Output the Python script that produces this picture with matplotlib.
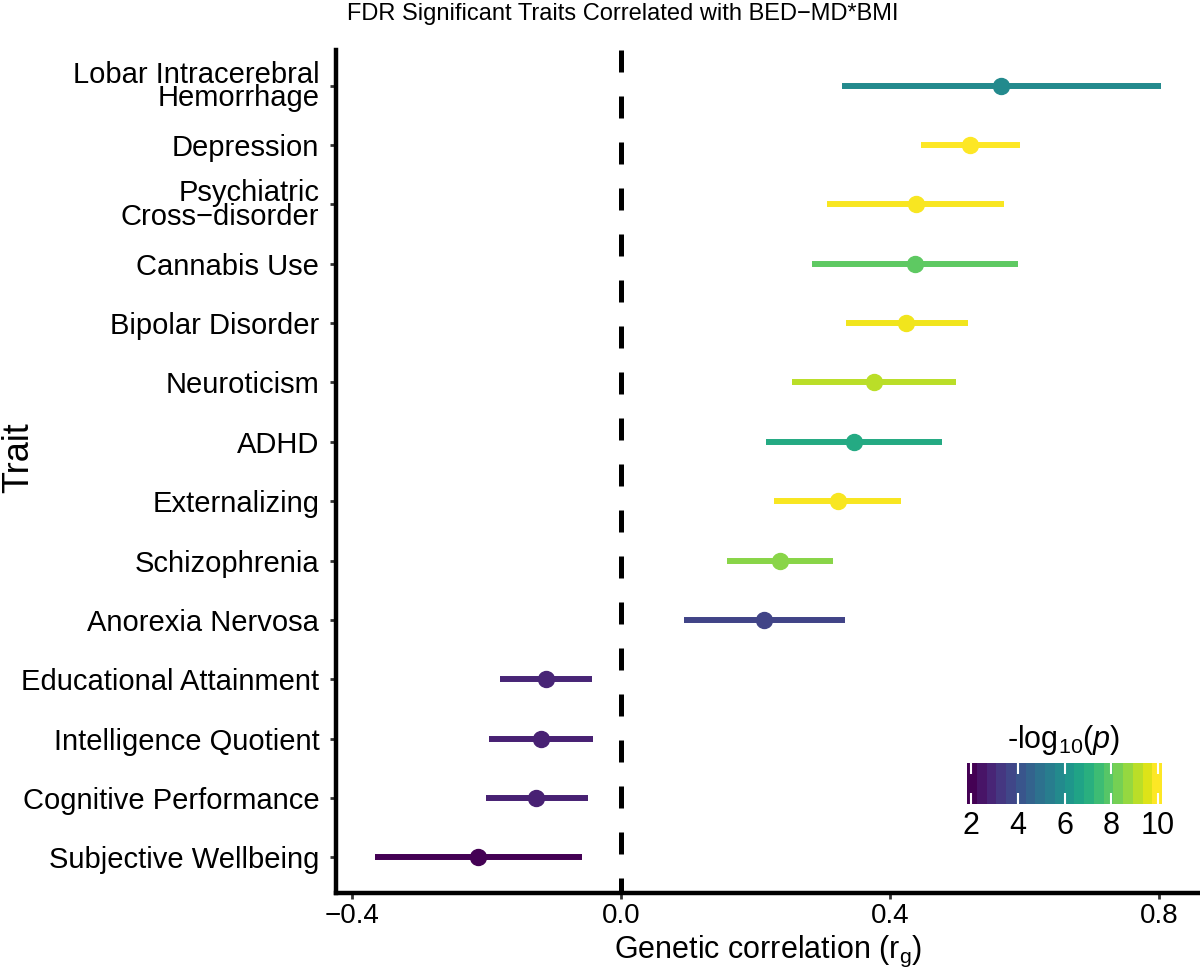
import numpy as np
import matplotlib
matplotlib.use("Agg")
import matplotlib.pyplot as plt
from matplotlib.colors import Normalize, ListedColormap
import matplotlib.cm as cm

plt.rcParams['font.family'] = ['Liberation Sans', 'DejaVu Sans']
plt.rcParams['mathtext.fontset'] = 'custom'
plt.rcParams['mathtext.rm'] = 'Liberation Sans'
plt.rcParams['mathtext.it'] = 'Liberation Sans:italic'

traits = ["Lobar Intracerebral\nHemorrhage", "Depression", "Psychiatric\nCross\u2212disorder",
          "Cannabis Use", "Bipolar Disorder", "Neuroticism", "ADHD", "Externalizing",
          "Schizophrenia", "Anorexia Nervosa", "Educational Attainment",
          "Intelligence Quotient", "Cognitive Performance", "Subjective Wellbeing"]
rg = [0.566, 0.519, 0.439, 0.437, 0.424, 0.376, 0.346, 0.322, 0.236, 0.212,
      -0.112, -0.119, -0.127, -0.213]
ci_low = [0.328, 0.446, 0.306, 0.284, 0.334, 0.254, 0.215, 0.228, 0.157, 0.094,
          -0.181, -0.197, -0.201, -0.366]
ci_high = [0.803, 0.594, 0.570, 0.590, 0.516, 0.499, 0.478, 0.416, 0.315, 0.333,
           -0.043, -0.042, -0.049, -0.058]
neglogp = [5.8, 10.17, 10.1, 8.1, 10.0, 9.3, 6.9, 10.1, 8.7, 3.5, 2.7, 2.6, 2.6, 1.83]
cbar_ticks = [2, 4, 6, 8, 10]
x_ticks = [-0.4, 0.0, 0.4, 0.8]

W, H = 1200, 973
fig = plt.figure(figsize=(W / 100, H / 100), dpi=100)

def px(x0, y0, x1, y1):
    return [x0 / W, 1 - y1 / H, (x1 - x0) / W, (y1 - y0) / H]

ax = fig.add_axes(px(336, 50, 1200, 893))

cmap = plt.get_cmap('viridis')
norm = Normalize(vmin=min(neglogp), vmax=max(neglogp))

n = len(traits)
ypos = np.arange(n)[::-1]
for i in range(n):
    c = cmap(norm(neglogp[i]))
    ax.plot([ci_low[i], ci_high[i]], [ypos[i], ypos[i]], color=c, lw=4.3,
            solid_capstyle='butt', zorder=2)
    ax.plot(rg[i], ypos[i], 'o', color=c, ms=11.5, zorder=3)

ytop, ybot = n - 1 + 0.6, -0.6
ax.plot([0, 0], [ytop, ybot], color='black', lw=3.6, ls=(0, (4.4, 4.8)), zorder=1)

xmin, xmax = min(ci_low), max(ci_high)
pad = 0.05 * (xmax - xmin)
ax.set_xlim(xmin - pad, xmax + pad)
ax.set_ylim(ybot, ytop)
ax.set_yticks(ypos)
ax.set_yticklabels(traits, fontsize=21, linespacing=0.8)
ax.set_xticks(x_ticks)
ax.set_xticklabels([f"{t:.1f}".replace('-', '\u2212') for t in x_ticks], fontsize=20)

for s in ['top', 'right']:
    ax.spines[s].set_visible(False)
for s in ['left', 'bottom']:
    ax.spines[s].set_linewidth(3.2)
ax.tick_params(axis='both', length=4, width=2, color='#333333', pad=3)
ax.tick_params(axis='y', pad=8)

fig.text(1 / W, 1 - 458 / H, 'Trait', rotation=90, ha='left', va='center', fontsize=26)
ax.set_xlabel('Genetic correlation (r$_\\mathregular{g}$)', fontsize=22, labelpad=4)

fig.text(623 / W, 1 - 14 / H, 'FDR Significant Traits Correlated with BED\u2212MD*BMI',
         ha='center', va='center', fontsize=17)

# colorbar
cax = fig.add_axes(px(967, 763, 1162, 804))
cm20 = ListedColormap(cmap(np.linspace(0, 1, 20)))
sm = cm.ScalarMappable(norm=norm, cmap=cm20)
cb = fig.colorbar(sm, cax=cax, orientation='horizontal')
cb.outline.set_visible(False)
cb.set_ticks(cbar_ticks)
cb.ax.tick_params(direction='in', color='white', length=8, width=1.5,
                  top=True, bottom=True, labelsize=22, pad=5)
cb.ax.set_xticklabels([str(t) for t in cbar_ticks])
fig.text(1064 / W, 1 - 740 / H, '-log$_{10}$($\\mathit{p}$)', ha='center', va='center', fontsize=22)

fig.savefig('out.png', dpi=100)
